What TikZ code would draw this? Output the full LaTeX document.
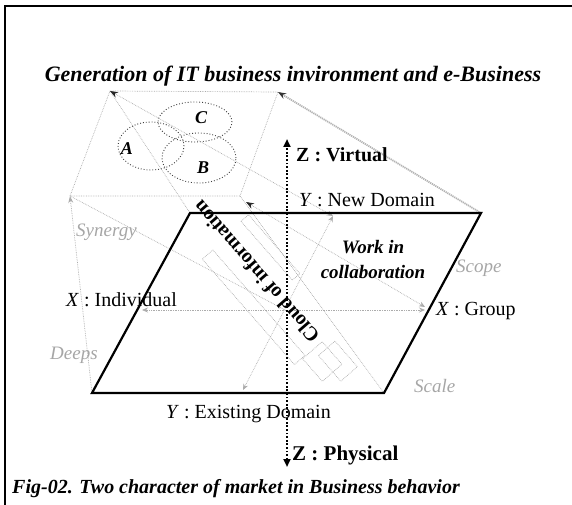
\documentclass[tikz,border=0pt]{standalone}
\usepackage{fontspec}
\setmainfont{Liberation Serif}
\usetikzlibrary{arrows.meta,shapes.geometric}
\begin{document}
\begin{tikzpicture}[x=1pt,y=-1pt,
  frame/.style={line width=2pt},
  plane/.style={line width=2.2pt, line join=miter},
  faint/.style={gray!65, line width=0.7pt, densely dotted},
  tipg/.style={-{Stealth[length=7pt,width=5pt]}},
  zaxis/.style={line width=2pt, dash pattern=on 1.8pt off 1.8pt,
    {Triangle[length=8pt,width=7pt]}-{Triangle[length=8pt,width=7pt]}},
  circ/.style={ellipse, draw=black!75, line width=0.9pt, dotted, inner sep=0pt},
  lbl/.style={inner sep=0pt, font=\fontsize{20}{22}\selectfont},
  setl/.style={inner sep=0pt, font=\fontsize{18}{20}\selectfont\bfseries\itshape},
  soft/.style={inner sep=0pt, text=gray!70, font=\fontsize{19}{21}\selectfont\itshape}
]
\useasboundingbox (0,0) rectangle (572,505);
% frame
\coordinate (fr1) at (5,505);
\coordinate (fr2) at (5,6);
\coordinate (fr3) at (572,6);
\draw[frame] (fr1) -- (fr2) -- (fr3);

% title
\node[inner sep=0pt, anchor=base] (title) at (293,82)
  {\fontsize{22}{24}\selectfont\bfseries\itshape Generation of IT business invironment and e-Business};

% corners
\coordinate (bTL) at (110,91);
\coordinate (bTR) at (278,92);
\coordinate (bBR) at (240,196);
\coordinate (bBL) at (70,196);
\coordinate (fTL) at (190,213);
\coordinate (fTR) at (481,213);
\coordinate (fBR) at (384,393);
\coordinate (fBL) at (92,393);
\coordinate (ctr) at (285,310);
\coordinate (yTop) at (333,216);
\coordinate (yBot) at (243,390);
\coordinate (xL) at (142,310);
\coordinate (xR) at (425,310);
\coordinate (zTop) at (287,139);
\coordinate (zBot) at (287,467);
\coordinate (bBRa) at (246,202);
\coordinate (grpA) at (425,307);

% back plane (virtual)
\draw[faint] (bTL) -- (bTR) -- (bBR) -- (bBL) -- cycle;

% set circles
\node[circ, minimum width=66pt, minimum height=48pt] (eA) at (151,146) {};
\node[circ, minimum width=74pt, minimum height=40pt] (eC) at (195,122) {};
\node[circ, minimum width=74pt, minimum height=50pt] (eB) at (199,158) {};
\node[setl] (lA) at (127,149) {A};
\node[setl] (lC) at (201,118) {C};
\node[setl] (lB) at (203,168) {B};

% connecting edges back-front
\draw[faint] (bTL) -- (fTL);
\draw[faint, tipg] (fBL) -- (bBL);
\draw[faint] (fBR) -- (bBR);
\draw[gray!60, line width=1.8pt, dash pattern=on 1.2pt off 0.8pt,
  -{Stealth[length=8pt,width=6pt,black!80]}] (fTR) -- (bTR);

% diagonals
\draw[faint, {Stealth[length=8pt,width=6pt,black!85]}-{Stealth[length=6pt,width=5pt]}] (bTL) -- (yTop);
\draw[faint, {Stealth[length=8pt,width=6pt,black!85]}-{Stealth[length=6pt,width=5pt]}] (bBRa) -- (grpA);
\draw[faint] (bBL) -- (ctr);

% axes
\draw[faint, {Stealth[length=6pt,width=5pt]}-{Stealth[length=6pt,width=5pt]}] (xL) -- (xR);
\draw[faint, {Stealth[length=6pt,width=5pt]}-{Stealth[length=6pt,width=5pt]}] (yBot) -- (yTop);

% cloud of information
\coordinate (cc) at (256,272);
\begin{scope}[shift={(cc)}, x={(0.658pt,-0.753pt)}, y={(0.753pt,0.658pt)}]
  \coordinate (r1a) at (-45,-18); \coordinate (r1b) at (95,-18);
  \coordinate (r1c) at (95,-32);  \coordinate (r1d) at (-45,-32);
  \draw[faint] (r1a) -- (r1b) -- (r1c) -- (r1d) -- cycle;
  \coordinate (r2a) at (-48,22); \coordinate (r2b) at (30,22);
  \coordinate (r2c) at (30,32);  \coordinate (r2d) at (-48,32);
  \draw[faint] (r2a) -- (r2b) -- (r2c) -- (r2d) -- cycle;
  \coordinate (r3a) at (96,-22); \coordinate (r3b) at (126,-22);
  \coordinate (r3c) at (126,4);  \coordinate (r3d) at (96,4);
  \draw[faint] (r3a) -- (r3b) -- (r3c) -- (r3d) -- cycle;
  \coordinate (r4a) at (104,-8); \coordinate (r4b) at (138,-8);
  \coordinate (r4c) at (138,14);  \coordinate (r4d) at (104,14);
  \draw[faint] (r4a) -- (r4b) -- (r4c) -- (r4d) -- cycle;
\end{scope}

% front plane (physical)
\draw[plane] (fTL) -- (fTR) -- (fBR) -- (fBL) -- cycle;

% cloud text
\node[inner sep=0pt, rotate=131, font=\fontsize{20}{22}\selectfont\bfseries] (cloud) at (cc) {Cloud of information};

% Z axis
\draw[zaxis] (zBot) -- (zTop);

% labels
\node[lbl, anchor=west, font=\fontsize{20}{22}\selectfont\bfseries] (zv) at (296,155) {Z : Virtual};
\node[lbl, anchor=west, font=\fontsize{21}{23}\selectfont\bfseries] (zp) at (292,455) {Z : Physical};
\node[lbl, anchor=west] (nd) at (299,200) {\textit{Y} : New Domain};
\node[lbl, anchor=west] (ed) at (166,414) {\textit{Y} : Existing Domain};
\node[lbl, anchor=west] (ind) at (66,300) {\textit{X} : Individual};
\node[lbl, anchor=west] (grp) at (436,311) {\textit{X} : Group};
\node[inner sep=0pt, align=center, font=\fontsize{19}{25}\selectfont\bfseries\itshape] (work) at (373,260) {Work in\\collaboration};
\node[soft, anchor=west] (syn) at (76,232) {Synergy};
\node[soft, anchor=west] (deep) at (50,355) {Deeps};
\node[soft, anchor=west] (scope) at (456,268) {Scope};
\node[soft, anchor=west] (scale) at (414,386) {Scale};

% caption
\node[inner sep=0pt, anchor=base west] (cap) at (12,493)
  {\fontsize{20}{22}\selectfont\bfseries\itshape Fig-02. Two character of market in Business behavior};
\end{tikzpicture}
\end{document}
